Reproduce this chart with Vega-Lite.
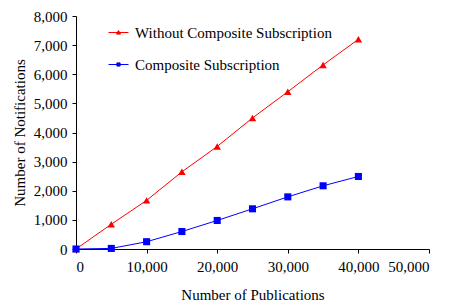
{
  "$schema": "https://vega.github.io/schema/vega-lite/v6.json",
  "autosize": "none",
  "width": 353,
  "height": 233,
  "padding": {"left": 76, "top": 16, "right": 21, "bottom": 58},
  "config": {
    "font": "Liberation Serif",
    "view": {"stroke": null},
    "axis": {"grid": false, "domainColor": "black", "tickColor": "black", "labelColor": "black", "titleColor": "black", "labelFontSize": 15, "titleFontSize": 15, "titleFontWeight": "normal", "labelFont": "Liberation Serif", "titleFont": "Liberation Serif", "tickSize": 4, "domainWidth": 1, "tickWidth": 1}
  },
  "data": {
    "values": [
      {"pubs": 0, "notif": 0, "series": "Without Composite Subscription"},
      {"pubs": 5000, "notif": 850, "series": "Without Composite Subscription"},
      {"pubs": 10000, "notif": 1670, "series": "Without Composite Subscription"},
      {"pubs": 15000, "notif": 2650, "series": "Without Composite Subscription"},
      {"pubs": 20000, "notif": 3520, "series": "Without Composite Subscription"},
      {"pubs": 25000, "notif": 4500, "series": "Without Composite Subscription"},
      {"pubs": 30000, "notif": 5400, "series": "Without Composite Subscription"},
      {"pubs": 35000, "notif": 6320, "series": "Without Composite Subscription"},
      {"pubs": 40000, "notif": 7200, "series": "Without Composite Subscription"},
      {"pubs": 0, "notif": 0, "series": "Composite Subscription"},
      {"pubs": 5000, "notif": 20, "series": "Composite Subscription"},
      {"pubs": 10000, "notif": 250, "series": "Composite Subscription"},
      {"pubs": 15000, "notif": 600, "series": "Composite Subscription"},
      {"pubs": 20000, "notif": 980, "series": "Composite Subscription"},
      {"pubs": 25000, "notif": 1380, "series": "Composite Subscription"},
      {"pubs": 30000, "notif": 1790, "series": "Composite Subscription"},
      {"pubs": 35000, "notif": 2170, "series": "Composite Subscription"},
      {"pubs": 40000, "notif": 2490, "series": "Composite Subscription"}
    ]
  },
  "encoding": {
    "x": {"field": "pubs", "type": "quantitative", "scale": {"domain": [0, 50000]}, "axis": {"orient": "bottom", "values": [0, 10000, 20000, 30000, 40000, 50000], "format": ",d", "title": "Number of Publications", "labelPadding": 6, "titlePadding": 13,
      "encode": {"ticks": {"update": {"y": {"value": -4}, "y2": {"value": 4}}}}}},
    "y": {"field": "notif", "type": "quantitative", "scale": {"domain": [0, 8000]}, "axis": {"orient": "left", "values": [0, 1000, 2000, 3000, 4000, 5000, 6000, 7000, 8000], "format": ",d", "title": "Number of Notifications", "labelPadding": 5, "titlePadding": 6,
      "encode": {"ticks": {"update": {"x": {"value": 4}, "x2": {"value": -4}}}}}},
    "color": {"field": "series", "type": "nominal", "scale": {"domain": ["Without Composite Subscription", "Composite Subscription"], "range": ["#ff0000", "#0000ff"]}, "legend": {
          "title": null, "orient": "none", "legendX": 32, "legendY": 6,
          "labelFontSize": 15, "labelFont": "Liberation Serif", "labelColor": "black", "labelLimit": 400,
          "symbolSize": 400, "rowPadding": 13, "labelOffset": 6,
          "encode": {"symbols": {"update": {
            "shape": {"signal": "datum.value === 'Composite Subscription' ? 'M-1,0H1M-0.16,-0.16H0.16V0.16H-0.16Z' : 'M-1,0H1M-0.2,0.16L0,-0.2L0.2,0.16Z'"},
            "fill": {"signal": "datum.value === 'Composite Subscription' ? '#0000ff' : '#ff0000'"},
            "stroke": {"signal": "datum.value === 'Composite Subscription' ? '#0000ff' : '#ff0000'"},
            "strokeWidth": {"value": 1},
            "opacity": {"value": 1}
          }}}
        }}
  },
  "layer": [
    {
      "mark": {"type": "line", "strokeWidth": 1}
    },
    {
      "transform": [{"filter": "datum.series === 'Without Composite Subscription'"}],
      "mark": {"type": "point", "filled": true, "opacity": 1, "size": 55, "shape": "triangle-up"}
    },
    {
      "transform": [{"filter": "datum.series === 'Composite Subscription'"}],
      "mark": {"type": "point", "filled": true, "opacity": 1, "size": 50, "shape": "square"}
    }
  ]
}
